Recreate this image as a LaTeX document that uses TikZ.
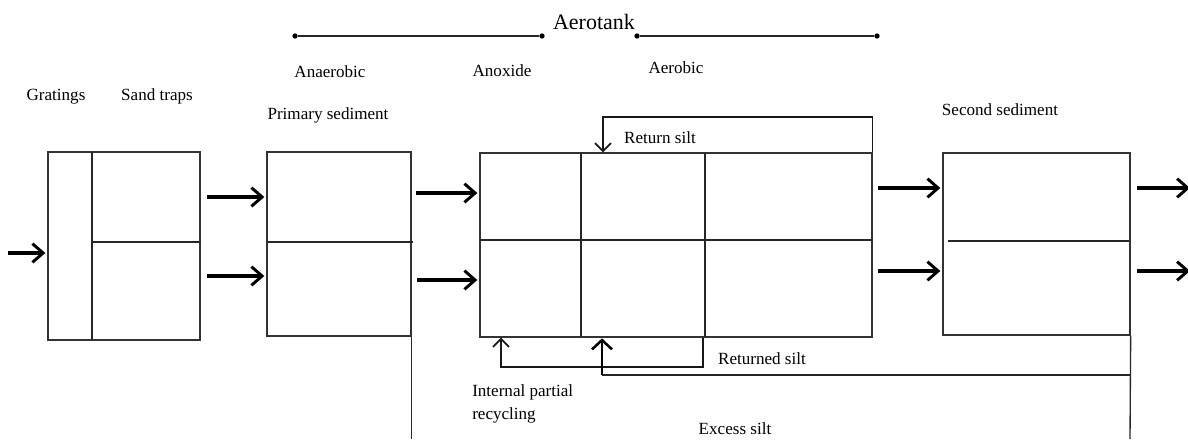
\documentclass[tikz,border=0pt]{standalone}
\usepackage{fontspec}
\setmainfont{Liberation Serif}
\usetikzlibrary{arrows.meta,fit}
\begin{document}
\begin{tikzpicture}[x=0.75pt,y=-0.75pt,
 box/.style={draw=black!80, line width=1pt, inner sep=0pt},
 thinline/.style={line width=1pt, draw=black!85},
 flow/.style={-{Straight Barb[length=8pt,width=14pt,line width=2.2pt]}, line width=2.5pt, shorten >=1.5pt},
 smallarr/.style={-{Straight Barb[length=6pt,width=12pt,line width=1.3pt]}, line width=1.1pt, draw=black!90},
 midarr/.style={-{Straight Barb[length=7pt,width=15pt,line width=1.9pt]}, line width=1.9pt},
 lbl/.style={font=\fontsize{12.8}{17}\selectfont, inner sep=0pt},
 dot/.style={circle, fill=black, inner sep=0pt, minimum size=4pt},
]
\useasboundingbox (0,0) rectangle (1188,439);

% boxes
\node[box, fit={(48,152) (200,340)}] (gs) {};
\node[box, fit={(267,152) (411,336)}] (ps) {};
\node[box, fit={(480,153) (872,337)}] (at) {};
\node[box, fit={(943,153) (1130,335)}] (ss) {};

% internal divisions
\draw[thinline] (92,152) -- (92,340);
\draw[thinline] (92,242) -- (201,242);
\draw[thinline] (267,242) -- (413,242);
\draw[thinline] (480,240) -- (873,240);
\draw[thinline] (581,153) -- (581,337);
\draw[thinline] (705,153) -- (705,337);
\draw[thinline] (948,241) -- (1129,241);

% flow arrows
\coordinate (in) at (8,253);
\draw[flow] (in) -- (in -| gs.west);
\coordinate (a1) at (207,197);
\coordinate (a2) at (207,276);
\draw[flow] (a1) -- (a1 -| ps.west);
\draw[flow] (a2) -- (a2 -| ps.west);
\coordinate (b1) at (416,193);
\coordinate (b2) at (417,280);
\draw[flow] (b1) -- (b1 -| at.west);
\draw[flow] (b2) -- (b2 -| at.west);
\coordinate (c1) at (878,188);
\coordinate (c2) at (878,271);
\draw[flow] (c1) -- (c1 -| ss.west);
\draw[flow] (c2) -- (c2 -| ss.west);
\coordinate (o1) at (1190,188);
\coordinate (o2) at (1190,271);
\draw[flow, shorten >=0pt] ([xshift=5pt]o1 -| ss.east) -- (o1);
\draw[flow, shorten >=0pt] ([xshift=5pt]o2 -| ss.east) -- (o2);

% return silt (top)
\coordinate (rs) at (603,117);
\draw[smallarr] (at.north east) |- (rs) -- (rs |- at.north);

% internal partial recycling
\coordinate (ir1) at (703,367);
\coordinate (ir2) at (501,367);
\draw[smallarr] (ir1 |- at.south) -- (ir1) -- (ir2) -- (ir2 |- at.south);

% returned silt and excess silt
\coordinate (ex2) at (1130,439);
\draw[thinline] (ss.south east) -- (ex2);
\coordinate (rt) at (602,375);
\draw[thinline] (rt -| ss.east) -- (rt);
\draw[midarr] (rt) -- ([yshift=-0.5pt]rt |- at.south);
\coordinate (ex1) at (410,439);
\draw[thinline] (ps.south east) -- (ps.south east |- ex1);

% aerotank span
\node[font=\fontsize{16.5}{18}\selectfont, inner sep=0pt] (aero) at (594,22) {Aerotank};
\node[dot] (d1) at (295,36) {};
\node[dot] (d2) at (542,36) {};
\node[dot] (d3) at (637,36) {};
\node[dot] (d4) at (877,36) {};
\draw[thinline] (d1) -- (d2);
\draw[thinline] (d3) -- (d4);

% labels
\node[lbl] (l1) at (56,97) {Gratings};
\node[lbl] (l2) at (157,96) {Sand traps};
\node[lbl] (l3) at (328,115) {Primary sediment};
\node[lbl] (l4) at (1000,110) {Second sediment};
\node[lbl] (l5) at (330,72) {Anaerobic};
\node[lbl] (l6) at (502,71) {Anoxide};
\node[lbl] (l7) at (676,68) {Aerobic};
\node[lbl] (l8) at (660,138) {Return silt};
\node[lbl] (l9) at (762,359) {Returned silt};
\node[lbl, align=left, anchor=west] (l10) at (472,404) {Internal partial\\recycling};
\node[lbl] (l11) at (735,429) {Excess silt};
\end{tikzpicture}
\end{document}
